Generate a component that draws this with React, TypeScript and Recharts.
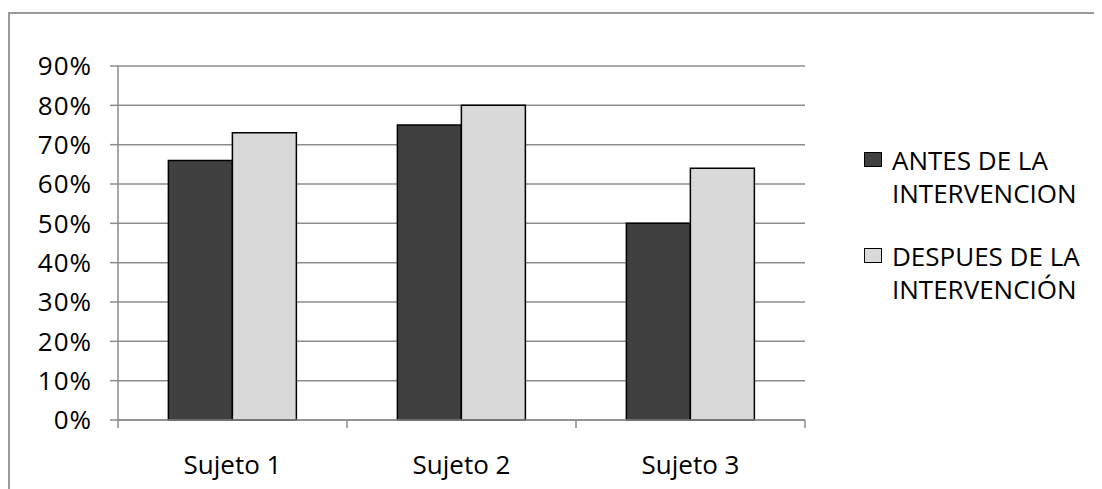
import React from 'react'
import { Bar, BarChart, CartesianGrid, XAxis, YAxis } from 'recharts'

const subjects = ['Sujeto 1', 'Sujeto 2', 'Sujeto 3']
const before = [0.66, 0.75, 0.5]
const after = [0.73, 0.8, 0.64]
const yTicks = [0, 0.1, 0.2, 0.3, 0.4, 0.5, 0.6, 0.7, 0.8, 0.9]

const seriesNames = ['ANTES DE LA\nINTERVENCION', 'DESPUES DE LA\nINTERVENCIÓN']
const seriesColors = ['#404040', '#d9d9d9']

const data = subjects.map((name, i) => ({ name, before: before[i], after: after[i] }))

const FONT = '"Open Sans", sans-serif'
const FONT_SIZE = 26
const AXIS_GRAY = '#8c8c8c'

// category label plus tick marks on the band edges (not the band centre)
function SubjectTick(props: any) {
  const { x, y, payload, index, visibleTicksCount } = props
  const half = payload?.offset ?? 0
  const isLast = index === visibleTicksCount - 1
  return (
    <g>
      <line x1={x - half} x2={x - half} y1={y} y2={y + 8} stroke={AXIS_GRAY} strokeWidth={1.5} />
      {isLast && (
        <line x1={x + half} x2={x + half} y1={y} y2={y + 8} stroke={AXIS_GRAY} strokeWidth={1.5} />
      )}
      <text
        x={x}
        y={y + 36}
        dy="0.71em"
        textAnchor="middle"
        fill="#000"
        fontSize={FONT_SIZE}
        fontFamily={FONT}
      >
        {payload.value}
      </text>
    </g>
  )
}

function LegendBox() {
  return (
    <div
      style={{
        position: 'absolute',
        left: 856,
        top: 136,
        width: 240,
        fontFamily: FONT,
        fontSize: FONT_SIZE,
        color: '#000',
      }}
    >
      {seriesNames.map((name, i) => (
        <div key={i} style={{ display: 'flex', alignItems: 'flex-start', marginBottom: 30 }}>
          <div
            style={{
              width: 16,
              height: 13,
              marginTop: 8,
              marginRight: 10,
              background: seriesColors[i],
              border: '1.5px solid #000',
              flex: 'none',
            }}
          />
          <div style={{ whiteSpace: 'pre-line', lineHeight: '33px' }}>{name}</div>
        </div>
      ))}
    </div>
  )
}

export default function App() {
  return (
    <div style={{ position: 'relative', width: 1094, height: 481 }}>
      <div
        style={{
          position: 'absolute',
          left: 0,
          top: 4,
          right: -20,
          bottom: -20,
          borderTop: '2px solid #9a9a9a',
          borderLeft: '2px solid #9a9a9a',
        }}
      />
      <div style={{ position: 'absolute', left: 0, top: 0 }}>
        <BarChart
          width={1094}
          height={481}
          data={data}
          margin={{ top: 58, right: 297, left: 0, bottom: 0 }}
          barCategoryGap="22%"
          barGap={0}
        >
          <CartesianGrid stroke={AXIS_GRAY} strokeWidth={1.5} vertical={false} />
          <XAxis
            dataKey="name"
            axisLine={{ stroke: AXIS_GRAY, strokeWidth: 1.5 }}
            tickLine={false}
            tickSize={0}
            tickMargin={0}
            height={69}
            interval={0}
            tick={<SubjectTick />}
          />
          <YAxis
            domain={[0, 0.9]}
            ticks={yTicks}
            interval={0}
            width={110}
            tickSize={8}
            tickMargin={18}
            tickFormatter={(v: number) => `${Math.round(v * 100)}%`}
            axisLine={{ stroke: AXIS_GRAY, strokeWidth: 1.5 }}
            tickLine={{ stroke: AXIS_GRAY, strokeWidth: 1.5 }}
            tick={{ fill: '#000', fontSize: FONT_SIZE, fontFamily: FONT, letterSpacing: 1 }}
          />
          <Bar
            dataKey="before"
            name={seriesNames[0]}
            fill={seriesColors[0]}
            stroke="#000"
            strokeWidth={1.5}
            isAnimationActive={false}
          />
          <Bar
            dataKey="after"
            name={seriesNames[1]}
            fill={seriesColors[1]}
            stroke="#000"
            strokeWidth={1.5}
            isAnimationActive={false}
          />
        </BarChart>
      </div>
      <LegendBox />
    </div>
  )
}
